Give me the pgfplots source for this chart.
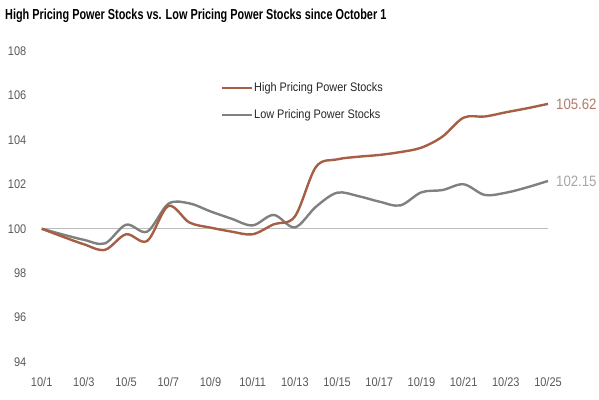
\documentclass[border=0pt]{standalone}
\usepackage{pgfplots}
\pgfplotsset{compat=1.18}
\usepackage{fontspec}
\setmainfont{Liberation Sans}[FakeStretch=0.88]
\newfontfamily\titlefont{Liberation Sans}[FakeStretch=0.75]
\definecolor{hiC}{HTML}{A65E44}
\definecolor{hiL}{HTML}{B07A66}
\definecolor{loC}{HTML}{808080}
\definecolor{loL}{HTML}{A6A6A6}
\definecolor{baseC}{HTML}{BDBDBD}
\definecolor{txtC}{HTML}{595959}
\begin{document}
\begin{tikzpicture}[x=1bp,y=1bp]
\path[use as bounding box] (0,0) rectangle (599,399);
\node[anchor=west,inner sep=0pt,font=\titlefont\bfseries\fontsize{14.5bp}{16bp}\selectfont] at (5,383) {High Pricing Power Stocks vs. Low Pricing Power Stocks since October 1};
\begin{axis}[
  at={(41.7bp,37bp)}, anchor=south west,
  scale only axis, width=506.3bp, height=311bp,
  xmin=1, xmax=25, ymin=94, ymax=108,
  enlargelimits=false, clip=false,
  axis line style={draw=none},
  major tick length=0pt,
  xtick={1,3,...,25},
  xticklabels={10/1,10/3,10/5,10/7,10/9,10/11,10/13,10/15,10/17,10/19,10/21,10/23,10/25},
  ytick={94,96,...,108},
  /pgf/number format/assume math mode=true,
  tick label style={font=\fontsize{12.5bp}{13bp}\selectfont, text=txtC},
  yticklabel style={anchor=east, inner sep=0pt, xshift=-15.2bp},
  xticklabel style={anchor=north, inner sep=0pt, yshift=-15bp},
]
\addplot[baseC, line width=0.8bp] coordinates {(1,100) (25,100)};
\addplot[loC, line width=2.4bp, smooth, tension=0.55] coordinates {
(1,100) (2,99.74) (3,99.5) (4,99.34) (5,100.18) (6,99.87) (7,101.12) (8,101.14)
(9,100.78) (10,100.45) (11,100.15) (12,100.62) (13,100.06) (14,100.99) (15,101.62)
(16,101.47) (17,101.22) (18,101.05) (19,101.64) (20,101.74) (21,102.0) (22,101.52)
(23,101.62) (24,101.86) (25,102.15)};
\addplot[hiC, line width=2.4bp, smooth, tension=0.55] coordinates {
(1,100) (2,99.64) (3,99.3) (4,99.05) (5,99.75) (6,99.45) (7,101.02) (8,100.28)
(9,100.05) (10,99.87) (11,99.75) (12,100.2) (13,100.55) (14,102.78) (15,103.12)
(16,103.24) (17,103.32) (18,103.45) (19,103.65) (20,104.15) (21,105.0) (22,105.05)
(23,105.24) (24,105.42) (25,105.62)};
\node[anchor=west, text=hiL, font=\fontsize{15bp}{16bp}\selectfont, inner sep=0pt] at (axis cs:25,105.62) [xshift=8bp] {105.62};
\node[anchor=west, text=loL, font=\fontsize{15bp}{16bp}\selectfont, inner sep=0pt] at (axis cs:25,102.15) [xshift=8bp] {102.15};
\end{axis}
% legend
\draw[hiC, line width=2.4bp] (222,311) -- (252,311);
\node[anchor=west, inner sep=0pt, text=black!85, font=\fontsize{12.4bp}{13bp}\selectfont] at (254,311) {High Pricing Power Stocks};
\draw[loC, line width=2.4bp] (222,284) -- (252,284);
\node[anchor=west, inner sep=0pt, text=black!85, font=\fontsize{12.4bp}{13bp}\selectfont] at (254,284) {Low Pricing Power Stocks};
\end{tikzpicture}
\end{document}
